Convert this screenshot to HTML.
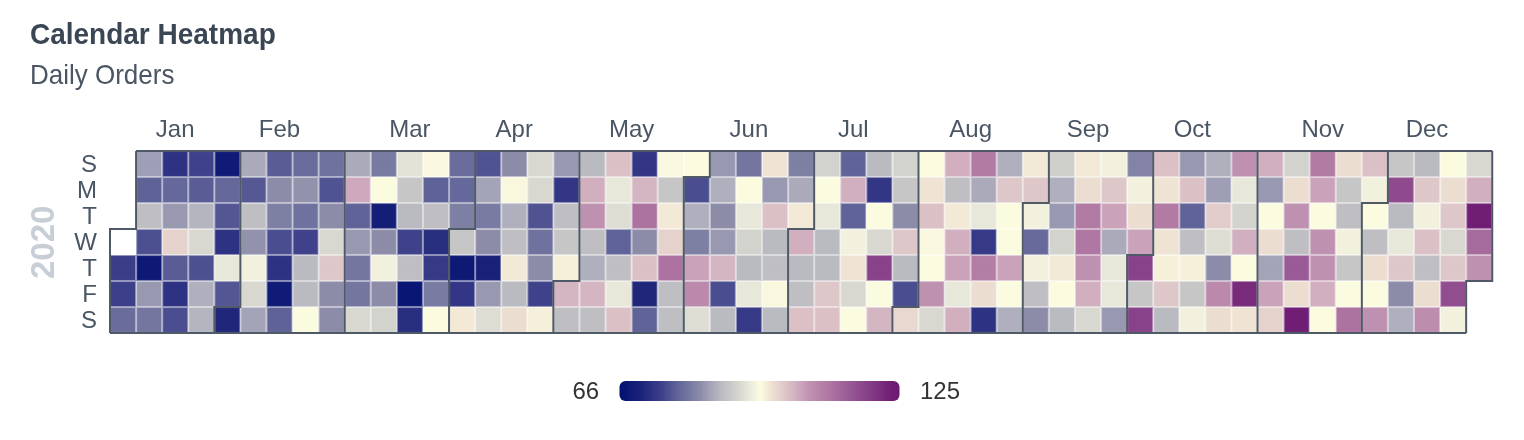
<!DOCTYPE html>
<html><head><meta charset="utf-8"><style>
html,body{margin:0;padding:0;background:#fff;width:1524px;height:440px;overflow:hidden}
svg{display:block;will-change:transform}
text{font-family:"Liberation Sans",sans-serif}
</style></head><body>
<svg width="1524" height="440" viewBox="0 0 1524 440">
<defs><linearGradient id="g" x1="0" x2="1" y1="0" y2="0"><stop offset="0.0000" stop-color="#001070"/><stop offset="0.0717" stop-color="#1a2278"/><stop offset="0.1434" stop-color="#3a3d88"/><stop offset="0.2151" stop-color="#65689a"/><stop offset="0.2867" stop-color="#8a8aa8"/><stop offset="0.3226" stop-color="#a2a2b8"/><stop offset="0.3584" stop-color="#b8b8c0"/><stop offset="0.3943" stop-color="#c8c8c8"/><stop offset="0.4301" stop-color="#d8d8d0"/><stop offset="0.4659" stop-color="#eaeadc"/><stop offset="0.5018" stop-color="#fcfce0"/><stop offset="0.5376" stop-color="#f0e4d4"/><stop offset="0.5735" stop-color="#e4d0cc"/><stop offset="0.6093" stop-color="#d8bcc4"/><stop offset="0.6452" stop-color="#cca6bc"/><stop offset="0.6810" stop-color="#bf90b0"/><stop offset="0.7527" stop-color="#ae76a2"/><stop offset="0.8244" stop-color="#985894"/><stop offset="0.8961" stop-color="#843c86"/><stop offset="0.9677" stop-color="#701e74"/><stop offset="1.0000" stop-color="#6a1a70"/></linearGradient></defs>
<text transform="translate(30,43.6) scale(1,1.055)" x="0" y="0" font-size="28" font-weight="bold" fill="#3a4654">Calendar Heatmap</text>
<text transform="translate(30,83.7) scale(1,1.04)" x="0" y="0" font-size="26" fill="#4a5664">Daily Orders</text>
<g><rect x="110.00" y="229.00" width="26.08" height="26.00" fill="#ffffff"/><rect x="110.00" y="255.00" width="26.08" height="26.00" fill="#3a3d88"/><rect x="110.00" y="281.00" width="26.08" height="26.00" fill="#3b3e88"/><rect x="110.00" y="307.00" width="26.08" height="26.00" fill="#6a6d9c"/><rect x="136.08" y="151.00" width="26.08" height="26.00" fill="#9e9eb6"/><rect x="136.08" y="177.00" width="26.08" height="26.00" fill="#5f6297"/><rect x="136.08" y="203.00" width="26.08" height="26.00" fill="#bebec3"/><rect x="136.08" y="229.00" width="26.08" height="26.00" fill="#4d5090"/><rect x="136.08" y="255.00" width="26.08" height="26.00" fill="#0d1974"/><rect x="136.08" y="281.00" width="26.08" height="26.00" fill="#9898b1"/><rect x="136.08" y="307.00" width="26.08" height="26.00" fill="#7476a0"/><rect x="162.16" y="151.00" width="26.08" height="26.00" fill="#2d3282"/><rect x="162.16" y="177.00" width="26.08" height="26.00" fill="#65689a"/><rect x="162.16" y="203.00" width="26.08" height="26.00" fill="#9898b1"/><rect x="162.16" y="229.00" width="26.08" height="26.00" fill="#e5d2cd"/><rect x="162.16" y="255.00" width="26.08" height="26.00" fill="#595c95"/><rect x="162.16" y="281.00" width="26.08" height="26.00" fill="#2d3282"/><rect x="162.16" y="307.00" width="26.08" height="26.00" fill="#4a4d8f"/><rect x="188.24" y="151.00" width="26.08" height="26.00" fill="#3f428a"/><rect x="188.24" y="177.00" width="26.08" height="26.00" fill="#595c95"/><rect x="188.24" y="203.00" width="26.08" height="26.00" fill="#b5b5bf"/><rect x="188.24" y="229.00" width="26.08" height="26.00" fill="#d8d8d0"/><rect x="188.24" y="255.00" width="26.08" height="26.00" fill="#4d5090"/><rect x="188.24" y="281.00" width="26.08" height="26.00" fill="#afafbd"/><rect x="188.24" y="307.00" width="26.08" height="26.00" fill="#b5b5bf"/><rect x="214.32" y="151.00" width="26.08" height="26.00" fill="#101b75"/><rect x="214.32" y="177.00" width="26.08" height="26.00" fill="#65689a"/><rect x="214.32" y="203.00" width="26.08" height="26.00" fill="#535693"/><rect x="214.32" y="229.00" width="26.08" height="26.00" fill="#2d3282"/><rect x="214.32" y="255.00" width="26.08" height="26.00" fill="#e7e7da"/><rect x="214.32" y="281.00" width="26.08" height="26.00" fill="#535693"/><rect x="214.32" y="307.00" width="26.08" height="26.00" fill="#20277b"/><rect x="240.40" y="151.00" width="26.08" height="26.00" fill="#aaaabb"/><rect x="240.40" y="177.00" width="26.08" height="26.00" fill="#555893"/><rect x="240.40" y="203.00" width="26.08" height="26.00" fill="#bebec3"/><rect x="240.40" y="229.00" width="26.08" height="26.00" fill="#9292ad"/><rect x="240.40" y="255.00" width="26.08" height="26.00" fill="#f1f1de"/><rect x="240.40" y="281.00" width="26.08" height="26.00" fill="#d8d8d0"/><rect x="240.40" y="307.00" width="26.08" height="26.00" fill="#a4a4b9"/><rect x="266.48" y="151.00" width="26.08" height="26.00" fill="#595c95"/><rect x="266.48" y="177.00" width="26.08" height="26.00" fill="#8c8ca9"/><rect x="266.48" y="203.00" width="26.08" height="26.00" fill="#7d7fa3"/><rect x="266.48" y="229.00" width="26.08" height="26.00" fill="#4a4d8f"/><rect x="266.48" y="255.00" width="26.08" height="26.00" fill="#2d3282"/><rect x="266.48" y="281.00" width="26.08" height="26.00" fill="#101b75"/><rect x="266.48" y="307.00" width="26.08" height="26.00" fill="#5f6297"/><rect x="292.56" y="151.00" width="26.08" height="26.00" fill="#6a6d9c"/><rect x="292.56" y="177.00" width="26.08" height="26.00" fill="#9292ad"/><rect x="292.56" y="203.00" width="26.08" height="26.00" fill="#6f719e"/><rect x="292.56" y="229.00" width="26.08" height="26.00" fill="#3f428a"/><rect x="292.56" y="255.00" width="26.08" height="26.00" fill="#babac1"/><rect x="292.56" y="281.00" width="26.08" height="26.00" fill="#babac1"/><rect x="292.56" y="307.00" width="26.08" height="26.00" fill="#fbfbe0"/><rect x="318.64" y="151.00" width="26.08" height="26.00" fill="#6f719e"/><rect x="318.64" y="177.00" width="26.08" height="26.00" fill="#505391"/><rect x="318.64" y="203.00" width="26.08" height="26.00" fill="#8c8ca9"/><rect x="318.64" y="229.00" width="26.08" height="26.00" fill="#d8d8d0"/><rect x="318.64" y="255.00" width="26.08" height="26.00" fill="#dec7c8"/><rect x="318.64" y="281.00" width="26.08" height="26.00" fill="#8c8ca9"/><rect x="318.64" y="307.00" width="26.08" height="26.00" fill="#8c8ca9"/><rect x="344.72" y="151.00" width="26.08" height="26.00" fill="#aaaabb"/><rect x="344.72" y="177.00" width="26.08" height="26.00" fill="#cea9bd"/><rect x="344.72" y="203.00" width="26.08" height="26.00" fill="#606398"/><rect x="344.72" y="229.00" width="26.08" height="26.00" fill="#9898b1"/><rect x="344.72" y="255.00" width="26.08" height="26.00" fill="#7476a0"/><rect x="344.72" y="281.00" width="26.08" height="26.00" fill="#7476a0"/><rect x="344.72" y="307.00" width="26.08" height="26.00" fill="#d8d8d0"/><rect x="370.80" y="151.00" width="26.08" height="26.00" fill="#797aa1"/><rect x="370.80" y="177.00" width="26.08" height="26.00" fill="#fbfbe0"/><rect x="370.80" y="203.00" width="26.08" height="26.00" fill="#141e76"/><rect x="370.80" y="229.00" width="26.08" height="26.00" fill="#8c8ca9"/><rect x="370.80" y="255.00" width="26.08" height="26.00" fill="#f1f1de"/><rect x="370.80" y="281.00" width="26.08" height="26.00" fill="#8c8ca9"/><rect x="370.80" y="307.00" width="26.08" height="26.00" fill="#d3d3ce"/><rect x="396.88" y="151.00" width="26.08" height="26.00" fill="#e2e2d7"/><rect x="396.88" y="177.00" width="26.08" height="26.00" fill="#c6c6c7"/><rect x="396.88" y="203.00" width="26.08" height="26.00" fill="#babac1"/><rect x="396.88" y="229.00" width="26.08" height="26.00" fill="#3f428a"/><rect x="396.88" y="255.00" width="26.08" height="26.00" fill="#bebec3"/><rect x="396.88" y="281.00" width="26.08" height="26.00" fill="#091673"/><rect x="396.88" y="307.00" width="26.08" height="26.00" fill="#292f7f"/><rect x="422.96" y="151.00" width="26.08" height="26.00" fill="#f9f7dd"/><rect x="422.96" y="177.00" width="26.08" height="26.00" fill="#5f6297"/><rect x="422.96" y="203.00" width="26.08" height="26.00" fill="#bebec3"/><rect x="422.96" y="229.00" width="26.08" height="26.00" fill="#292f7f"/><rect x="422.96" y="255.00" width="26.08" height="26.00" fill="#363a86"/><rect x="422.96" y="281.00" width="26.08" height="26.00" fill="#7a7ba2"/><rect x="422.96" y="307.00" width="26.08" height="26.00" fill="#fbfbe0"/><rect x="449.04" y="151.00" width="26.08" height="26.00" fill="#6a6d9c"/><rect x="449.04" y="177.00" width="26.08" height="26.00" fill="#65689a"/><rect x="449.04" y="203.00" width="26.08" height="26.00" fill="#7d7fa3"/><rect x="449.04" y="229.00" width="26.08" height="26.00" fill="#c6c6c7"/><rect x="449.04" y="255.00" width="26.08" height="26.00" fill="#0d1974"/><rect x="449.04" y="281.00" width="26.08" height="26.00" fill="#323684"/><rect x="449.04" y="307.00" width="26.08" height="26.00" fill="#f3e9d7"/><rect x="475.12" y="151.00" width="26.08" height="26.00" fill="#505391"/><rect x="475.12" y="177.00" width="26.08" height="26.00" fill="#a4a4b9"/><rect x="475.12" y="203.00" width="26.08" height="26.00" fill="#7a7ba2"/><rect x="475.12" y="229.00" width="26.08" height="26.00" fill="#8c8ca9"/><rect x="475.12" y="255.00" width="26.08" height="26.00" fill="#182077"/><rect x="475.12" y="281.00" width="26.08" height="26.00" fill="#9898b1"/><rect x="475.12" y="307.00" width="26.08" height="26.00" fill="#ddddd3"/><rect x="501.20" y="151.00" width="26.08" height="26.00" fill="#8c8ca9"/><rect x="501.20" y="177.00" width="26.08" height="26.00" fill="#f9f7dd"/><rect x="501.20" y="203.00" width="26.08" height="26.00" fill="#afafbd"/><rect x="501.20" y="229.00" width="26.08" height="26.00" fill="#bebec3"/><rect x="501.20" y="255.00" width="26.08" height="26.00" fill="#f3e9d7"/><rect x="501.20" y="281.00" width="26.08" height="26.00" fill="#babac1"/><rect x="501.20" y="307.00" width="26.08" height="26.00" fill="#ecddd1"/><rect x="527.28" y="151.00" width="26.08" height="26.00" fill="#d8d8d0"/><rect x="527.28" y="177.00" width="26.08" height="26.00" fill="#d8d8d0"/><rect x="527.28" y="203.00" width="26.08" height="26.00" fill="#505391"/><rect x="527.28" y="229.00" width="26.08" height="26.00" fill="#6f719e"/><rect x="527.28" y="255.00" width="26.08" height="26.00" fill="#8c8ca9"/><rect x="527.28" y="281.00" width="26.08" height="26.00" fill="#3f428a"/><rect x="527.28" y="307.00" width="26.08" height="26.00" fill="#f6f0da"/><rect x="553.36" y="151.00" width="26.08" height="26.00" fill="#9898b1"/><rect x="553.36" y="177.00" width="26.08" height="26.00" fill="#323684"/><rect x="553.36" y="203.00" width="26.08" height="26.00" fill="#bebec3"/><rect x="553.36" y="229.00" width="26.08" height="26.00" fill="#c6c6c7"/><rect x="553.36" y="255.00" width="26.08" height="26.00" fill="#f6f0da"/><rect x="553.36" y="281.00" width="26.08" height="26.00" fill="#d4b5c2"/><rect x="553.36" y="307.00" width="26.08" height="26.00" fill="#bebec3"/><rect x="579.44" y="151.00" width="26.08" height="26.00" fill="#babac1"/><rect x="579.44" y="177.00" width="26.08" height="26.00" fill="#d1afbf"/><rect x="579.44" y="203.00" width="26.08" height="26.00" fill="#bf91b0"/><rect x="579.44" y="229.00" width="26.08" height="26.00" fill="#bebec3"/><rect x="579.44" y="255.00" width="26.08" height="26.00" fill="#afafbd"/><rect x="579.44" y="281.00" width="26.08" height="26.00" fill="#d4b5c2"/><rect x="579.44" y="307.00" width="26.08" height="26.00" fill="#bebec3"/><rect x="605.52" y="151.00" width="26.08" height="26.00" fill="#dbc1c6"/><rect x="605.52" y="177.00" width="26.08" height="26.00" fill="#e7e7da"/><rect x="605.52" y="203.00" width="26.08" height="26.00" fill="#ddddd3"/><rect x="605.52" y="229.00" width="26.08" height="26.00" fill="#606398"/><rect x="605.52" y="255.00" width="26.08" height="26.00" fill="#bebec3"/><rect x="605.52" y="281.00" width="26.08" height="26.00" fill="#e7e7da"/><rect x="605.52" y="307.00" width="26.08" height="26.00" fill="#dbc1c6"/><rect x="631.60" y="151.00" width="26.08" height="26.00" fill="#323684"/><rect x="631.60" y="177.00" width="26.08" height="26.00" fill="#d4b5c2"/><rect x="631.60" y="203.00" width="26.08" height="26.00" fill="#ac73a1"/><rect x="631.60" y="229.00" width="26.08" height="26.00" fill="#8c8ca9"/><rect x="631.60" y="255.00" width="26.08" height="26.00" fill="#dbc1c6"/><rect x="631.60" y="281.00" width="26.08" height="26.00" fill="#20277b"/><rect x="631.60" y="307.00" width="26.08" height="26.00" fill="#606398"/><rect x="657.68" y="151.00" width="26.08" height="26.00" fill="#f9f7dd"/><rect x="657.68" y="177.00" width="26.08" height="26.00" fill="#c6c6c7"/><rect x="657.68" y="203.00" width="26.08" height="26.00" fill="#f3e9d7"/><rect x="657.68" y="229.00" width="26.08" height="26.00" fill="#e5d2cd"/><rect x="657.68" y="255.00" width="26.08" height="26.00" fill="#ac73a1"/><rect x="657.68" y="281.00" width="26.08" height="26.00" fill="#bebec3"/><rect x="657.68" y="307.00" width="26.08" height="26.00" fill="#bebec3"/><rect x="683.76" y="151.00" width="26.08" height="26.00" fill="#fbfbe0"/><rect x="683.76" y="177.00" width="26.08" height="26.00" fill="#4a4d8f"/><rect x="683.76" y="203.00" width="26.08" height="26.00" fill="#afafbd"/><rect x="683.76" y="229.00" width="26.08" height="26.00" fill="#7d7fa3"/><rect x="683.76" y="255.00" width="26.08" height="26.00" fill="#caa3ba"/><rect x="683.76" y="281.00" width="26.08" height="26.00" fill="#ba89ac"/><rect x="683.76" y="307.00" width="26.08" height="26.00" fill="#ddddd3"/><rect x="709.84" y="151.00" width="26.08" height="26.00" fill="#9898b1"/><rect x="709.84" y="177.00" width="26.08" height="26.00" fill="#afafbd"/><rect x="709.84" y="203.00" width="26.08" height="26.00" fill="#8c8ca9"/><rect x="709.84" y="229.00" width="26.08" height="26.00" fill="#9898b1"/><rect x="709.84" y="255.00" width="26.08" height="26.00" fill="#d4b5c2"/><rect x="709.84" y="281.00" width="26.08" height="26.00" fill="#4a4d8f"/><rect x="709.84" y="307.00" width="26.08" height="26.00" fill="#babac1"/><rect x="735.92" y="151.00" width="26.08" height="26.00" fill="#7476a0"/><rect x="735.92" y="177.00" width="26.08" height="26.00" fill="#fbfbe0"/><rect x="735.92" y="203.00" width="26.08" height="26.00" fill="#e7e7da"/><rect x="735.92" y="229.00" width="26.08" height="26.00" fill="#d3d3ce"/><rect x="735.92" y="255.00" width="26.08" height="26.00" fill="#babac1"/><rect x="735.92" y="281.00" width="26.08" height="26.00" fill="#e7e7da"/><rect x="735.92" y="307.00" width="26.08" height="26.00" fill="#363a86"/><rect x="762.00" y="151.00" width="26.08" height="26.00" fill="#efe3d3"/><rect x="762.00" y="177.00" width="26.08" height="26.00" fill="#9898b1"/><rect x="762.00" y="203.00" width="26.08" height="26.00" fill="#dbc1c6"/><rect x="762.00" y="229.00" width="26.08" height="26.00" fill="#babac1"/><rect x="762.00" y="255.00" width="26.08" height="26.00" fill="#bebec3"/><rect x="762.00" y="281.00" width="26.08" height="26.00" fill="#f9f7dd"/><rect x="762.00" y="307.00" width="26.08" height="26.00" fill="#babac1"/><rect x="788.08" y="151.00" width="26.08" height="26.00" fill="#7d7fa3"/><rect x="788.08" y="177.00" width="26.08" height="26.00" fill="#aaaabb"/><rect x="788.08" y="203.00" width="26.08" height="26.00" fill="#f3e9d7"/><rect x="788.08" y="229.00" width="26.08" height="26.00" fill="#d1afbf"/><rect x="788.08" y="255.00" width="26.08" height="26.00" fill="#babac1"/><rect x="788.08" y="281.00" width="26.08" height="26.00" fill="#bebec3"/><rect x="788.08" y="307.00" width="26.08" height="26.00" fill="#dbc1c6"/><rect x="814.16" y="151.00" width="26.08" height="26.00" fill="#d3d3ce"/><rect x="814.16" y="177.00" width="26.08" height="26.00" fill="#fbfbe0"/><rect x="814.16" y="203.00" width="26.08" height="26.00" fill="#e7e7da"/><rect x="814.16" y="229.00" width="26.08" height="26.00" fill="#babac1"/><rect x="814.16" y="255.00" width="26.08" height="26.00" fill="#babac1"/><rect x="814.16" y="281.00" width="26.08" height="26.00" fill="#dec7c8"/><rect x="814.16" y="307.00" width="26.08" height="26.00" fill="#dbc1c6"/><rect x="840.24" y="151.00" width="26.08" height="26.00" fill="#606398"/><rect x="840.24" y="177.00" width="26.08" height="26.00" fill="#d1afbf"/><rect x="840.24" y="203.00" width="26.08" height="26.00" fill="#606398"/><rect x="840.24" y="229.00" width="26.08" height="26.00" fill="#f1f1de"/><rect x="840.24" y="255.00" width="26.08" height="26.00" fill="#efe3d3"/><rect x="840.24" y="281.00" width="26.08" height="26.00" fill="#d8d8d0"/><rect x="840.24" y="307.00" width="26.08" height="26.00" fill="#fbfbe0"/><rect x="866.32" y="151.00" width="26.08" height="26.00" fill="#babac1"/><rect x="866.32" y="177.00" width="26.08" height="26.00" fill="#323684"/><rect x="866.32" y="203.00" width="26.08" height="26.00" fill="#fbfbe0"/><rect x="866.32" y="229.00" width="26.08" height="26.00" fill="#d8d8d0"/><rect x="866.32" y="255.00" width="26.08" height="26.00" fill="#884289"/><rect x="866.32" y="281.00" width="26.08" height="26.00" fill="#fbfbe0"/><rect x="866.32" y="307.00" width="26.08" height="26.00" fill="#d4b5c2"/><rect x="892.40" y="151.00" width="26.08" height="26.00" fill="#d3d3ce"/><rect x="892.40" y="177.00" width="26.08" height="26.00" fill="#c6c6c7"/><rect x="892.40" y="203.00" width="26.08" height="26.00" fill="#8c8ca9"/><rect x="892.40" y="229.00" width="26.08" height="26.00" fill="#dec7c8"/><rect x="892.40" y="255.00" width="26.08" height="26.00" fill="#babac1"/><rect x="892.40" y="281.00" width="26.08" height="26.00" fill="#4a4d8f"/><rect x="892.40" y="307.00" width="26.08" height="26.00" fill="#e9d8cf"/><rect x="918.48" y="151.00" width="26.08" height="26.00" fill="#fbfbe0"/><rect x="918.48" y="177.00" width="26.08" height="26.00" fill="#efe3d3"/><rect x="918.48" y="203.00" width="26.08" height="26.00" fill="#dbc1c6"/><rect x="918.48" y="229.00" width="26.08" height="26.00" fill="#f9f7dd"/><rect x="918.48" y="255.00" width="26.08" height="26.00" fill="#fbfbe0"/><rect x="918.48" y="281.00" width="26.08" height="26.00" fill="#bf91b0"/><rect x="918.48" y="307.00" width="26.08" height="26.00" fill="#d8d8d0"/><rect x="944.56" y="151.00" width="26.08" height="26.00" fill="#d1afbf"/><rect x="944.56" y="177.00" width="26.08" height="26.00" fill="#bebec3"/><rect x="944.56" y="203.00" width="26.08" height="26.00" fill="#f3e9d7"/><rect x="944.56" y="229.00" width="26.08" height="26.00" fill="#d1afbf"/><rect x="944.56" y="255.00" width="26.08" height="26.00" fill="#caa3ba"/><rect x="944.56" y="281.00" width="26.08" height="26.00" fill="#e7e7da"/><rect x="944.56" y="307.00" width="26.08" height="26.00" fill="#d1afbf"/><rect x="970.64" y="151.00" width="26.08" height="26.00" fill="#b17ba4"/><rect x="970.64" y="177.00" width="26.08" height="26.00" fill="#aaaabb"/><rect x="970.64" y="203.00" width="26.08" height="26.00" fill="#e7e7da"/><rect x="970.64" y="229.00" width="26.08" height="26.00" fill="#363a86"/><rect x="970.64" y="255.00" width="26.08" height="26.00" fill="#b37ea6"/><rect x="970.64" y="281.00" width="26.08" height="26.00" fill="#ecddd1"/><rect x="970.64" y="307.00" width="26.08" height="26.00" fill="#2d3282"/><rect x="996.72" y="151.00" width="26.08" height="26.00" fill="#afafbd"/><rect x="996.72" y="177.00" width="26.08" height="26.00" fill="#dec7c8"/><rect x="996.72" y="203.00" width="26.08" height="26.00" fill="#fbfbe0"/><rect x="996.72" y="229.00" width="26.08" height="26.00" fill="#fbfbe0"/><rect x="996.72" y="255.00" width="26.08" height="26.00" fill="#caa3ba"/><rect x="996.72" y="281.00" width="26.08" height="26.00" fill="#fbfbe0"/><rect x="996.72" y="307.00" width="26.08" height="26.00" fill="#afafbd"/><rect x="1022.80" y="151.00" width="26.08" height="26.00" fill="#f3e9d7"/><rect x="1022.80" y="177.00" width="26.08" height="26.00" fill="#dec7c8"/><rect x="1022.80" y="203.00" width="26.08" height="26.00" fill="#f1f1de"/><rect x="1022.80" y="229.00" width="26.08" height="26.00" fill="#66699a"/><rect x="1022.80" y="255.00" width="26.08" height="26.00" fill="#f1f1de"/><rect x="1022.80" y="281.00" width="26.08" height="26.00" fill="#bebec3"/><rect x="1022.80" y="307.00" width="26.08" height="26.00" fill="#8c8ca9"/><rect x="1048.88" y="151.00" width="26.08" height="26.00" fill="#cfcfcc"/><rect x="1048.88" y="177.00" width="26.08" height="26.00" fill="#afafbd"/><rect x="1048.88" y="203.00" width="26.08" height="26.00" fill="#9898b1"/><rect x="1048.88" y="229.00" width="26.08" height="26.00" fill="#d3d3ce"/><rect x="1048.88" y="255.00" width="26.08" height="26.00" fill="#f3e9d7"/><rect x="1048.88" y="281.00" width="26.08" height="26.00" fill="#fbfbe0"/><rect x="1048.88" y="307.00" width="26.08" height="26.00" fill="#babac1"/><rect x="1074.96" y="151.00" width="26.08" height="26.00" fill="#f3e9d7"/><rect x="1074.96" y="177.00" width="26.08" height="26.00" fill="#ecddd1"/><rect x="1074.96" y="203.00" width="26.08" height="26.00" fill="#b17ba4"/><rect x="1074.96" y="229.00" width="26.08" height="26.00" fill="#af77a3"/><rect x="1074.96" y="255.00" width="26.08" height="26.00" fill="#bf91b0"/><rect x="1074.96" y="281.00" width="26.08" height="26.00" fill="#d1afbf"/><rect x="1074.96" y="307.00" width="26.08" height="26.00" fill="#d8d8d0"/><rect x="1101.04" y="151.00" width="26.08" height="26.00" fill="#f1f1de"/><rect x="1101.04" y="177.00" width="26.08" height="26.00" fill="#dec7c8"/><rect x="1101.04" y="203.00" width="26.08" height="26.00" fill="#caa3ba"/><rect x="1101.04" y="229.00" width="26.08" height="26.00" fill="#aaaabb"/><rect x="1101.04" y="255.00" width="26.08" height="26.00" fill="#e7e7da"/><rect x="1101.04" y="281.00" width="26.08" height="26.00" fill="#e7e7da"/><rect x="1101.04" y="307.00" width="26.08" height="26.00" fill="#9898b1"/><rect x="1127.12" y="151.00" width="26.08" height="26.00" fill="#8283a5"/><rect x="1127.12" y="177.00" width="26.08" height="26.00" fill="#f1f1de"/><rect x="1127.12" y="203.00" width="26.08" height="26.00" fill="#ecddd1"/><rect x="1127.12" y="229.00" width="26.08" height="26.00" fill="#caa3ba"/><rect x="1127.12" y="255.00" width="26.08" height="26.00" fill="#884289"/><rect x="1127.12" y="281.00" width="26.08" height="26.00" fill="#c6c6c7"/><rect x="1127.12" y="307.00" width="26.08" height="26.00" fill="#884289"/><rect x="1153.20" y="151.00" width="26.08" height="26.00" fill="#dbc1c6"/><rect x="1153.20" y="177.00" width="26.08" height="26.00" fill="#efe3d3"/><rect x="1153.20" y="203.00" width="26.08" height="26.00" fill="#b17ba4"/><rect x="1153.20" y="229.00" width="26.08" height="26.00" fill="#efe3d3"/><rect x="1153.20" y="255.00" width="26.08" height="26.00" fill="#f6f0da"/><rect x="1153.20" y="281.00" width="26.08" height="26.00" fill="#dec7c8"/><rect x="1153.20" y="307.00" width="26.08" height="26.00" fill="#babac1"/><rect x="1179.28" y="151.00" width="26.08" height="26.00" fill="#9898b1"/><rect x="1179.28" y="177.00" width="26.08" height="26.00" fill="#dbc1c6"/><rect x="1179.28" y="203.00" width="26.08" height="26.00" fill="#606398"/><rect x="1179.28" y="229.00" width="26.08" height="26.00" fill="#bebec3"/><rect x="1179.28" y="255.00" width="26.08" height="26.00" fill="#f6f0da"/><rect x="1179.28" y="281.00" width="26.08" height="26.00" fill="#c6c6c7"/><rect x="1179.28" y="307.00" width="26.08" height="26.00" fill="#f1f1de"/><rect x="1205.36" y="151.00" width="26.08" height="26.00" fill="#afafbd"/><rect x="1205.36" y="177.00" width="26.08" height="26.00" fill="#9e9eb6"/><rect x="1205.36" y="203.00" width="26.08" height="26.00" fill="#e2cccb"/><rect x="1205.36" y="229.00" width="26.08" height="26.00" fill="#ddddd3"/><rect x="1205.36" y="255.00" width="26.08" height="26.00" fill="#8c8ca9"/><rect x="1205.36" y="281.00" width="26.08" height="26.00" fill="#ba89ac"/><rect x="1205.36" y="307.00" width="26.08" height="26.00" fill="#ecddd1"/><rect x="1231.44" y="151.00" width="26.08" height="26.00" fill="#bf91b0"/><rect x="1231.44" y="177.00" width="26.08" height="26.00" fill="#e7e7da"/><rect x="1231.44" y="203.00" width="26.08" height="26.00" fill="#d3d3ce"/><rect x="1231.44" y="229.00" width="26.08" height="26.00" fill="#d1afbf"/><rect x="1231.44" y="255.00" width="26.08" height="26.00" fill="#fbfbe0"/><rect x="1231.44" y="281.00" width="26.08" height="26.00" fill="#782a7b"/><rect x="1231.44" y="307.00" width="26.08" height="26.00" fill="#efe3d3"/><rect x="1257.52" y="151.00" width="26.08" height="26.00" fill="#d1afbf"/><rect x="1257.52" y="177.00" width="26.08" height="26.00" fill="#9898b1"/><rect x="1257.52" y="203.00" width="26.08" height="26.00" fill="#fbfbe0"/><rect x="1257.52" y="229.00" width="26.08" height="26.00" fill="#ecddd1"/><rect x="1257.52" y="255.00" width="26.08" height="26.00" fill="#a4a4b9"/><rect x="1257.52" y="281.00" width="26.08" height="26.00" fill="#caa3ba"/><rect x="1257.52" y="307.00" width="26.08" height="26.00" fill="#e5d2cd"/><rect x="1283.60" y="151.00" width="26.08" height="26.00" fill="#d3d3ce"/><rect x="1283.60" y="177.00" width="26.08" height="26.00" fill="#ecddd1"/><rect x="1283.60" y="203.00" width="26.08" height="26.00" fill="#bf91b0"/><rect x="1283.60" y="229.00" width="26.08" height="26.00" fill="#bebec3"/><rect x="1283.60" y="255.00" width="26.08" height="26.00" fill="#995a95"/><rect x="1283.60" y="281.00" width="26.08" height="26.00" fill="#ecddd1"/><rect x="1283.60" y="307.00" width="26.08" height="26.00" fill="#701e74"/><rect x="1309.68" y="151.00" width="26.08" height="26.00" fill="#b17ba4"/><rect x="1309.68" y="177.00" width="26.08" height="26.00" fill="#caa3ba"/><rect x="1309.68" y="203.00" width="26.08" height="26.00" fill="#fbfbe0"/><rect x="1309.68" y="229.00" width="26.08" height="26.00" fill="#bf91b0"/><rect x="1309.68" y="255.00" width="26.08" height="26.00" fill="#bf91b0"/><rect x="1309.68" y="281.00" width="26.08" height="26.00" fill="#d1afbf"/><rect x="1309.68" y="307.00" width="26.08" height="26.00" fill="#fbfbe0"/><rect x="1335.76" y="151.00" width="26.08" height="26.00" fill="#ecddd1"/><rect x="1335.76" y="177.00" width="26.08" height="26.00" fill="#c6c6c7"/><rect x="1335.76" y="203.00" width="26.08" height="26.00" fill="#bebec3"/><rect x="1335.76" y="229.00" width="26.08" height="26.00" fill="#f1f1de"/><rect x="1335.76" y="255.00" width="26.08" height="26.00" fill="#c6c6c7"/><rect x="1335.76" y="281.00" width="26.08" height="26.00" fill="#fbfbe0"/><rect x="1335.76" y="307.00" width="26.08" height="26.00" fill="#ac73a1"/><rect x="1361.84" y="151.00" width="26.08" height="26.00" fill="#dbc1c6"/><rect x="1361.84" y="177.00" width="26.08" height="26.00" fill="#f1f1de"/><rect x="1361.84" y="203.00" width="26.08" height="26.00" fill="#fbfbe0"/><rect x="1361.84" y="229.00" width="26.08" height="26.00" fill="#bebec3"/><rect x="1361.84" y="255.00" width="26.08" height="26.00" fill="#ecddd1"/><rect x="1361.84" y="281.00" width="26.08" height="26.00" fill="#fbfbe0"/><rect x="1361.84" y="307.00" width="26.08" height="26.00" fill="#bf91b0"/><rect x="1387.92" y="151.00" width="26.08" height="26.00" fill="#c6c6c7"/><rect x="1387.92" y="177.00" width="26.08" height="26.00" fill="#8e4a8d"/><rect x="1387.92" y="203.00" width="26.08" height="26.00" fill="#babac1"/><rect x="1387.92" y="229.00" width="26.08" height="26.00" fill="#e7e7da"/><rect x="1387.92" y="255.00" width="26.08" height="26.00" fill="#dec7c8"/><rect x="1387.92" y="281.00" width="26.08" height="26.00" fill="#8c8ca9"/><rect x="1387.92" y="307.00" width="26.08" height="26.00" fill="#afafbd"/><rect x="1414.00" y="151.00" width="26.08" height="26.00" fill="#babac1"/><rect x="1414.00" y="177.00" width="26.08" height="26.00" fill="#dec7c8"/><rect x="1414.00" y="203.00" width="26.08" height="26.00" fill="#f1f1de"/><rect x="1414.00" y="229.00" width="26.08" height="26.00" fill="#dbc1c6"/><rect x="1414.00" y="255.00" width="26.08" height="26.00" fill="#bebec3"/><rect x="1414.00" y="281.00" width="26.08" height="26.00" fill="#ecddd1"/><rect x="1414.00" y="307.00" width="26.08" height="26.00" fill="#bd8dae"/><rect x="1440.08" y="151.00" width="26.08" height="26.00" fill="#fbfbe0"/><rect x="1440.08" y="177.00" width="26.08" height="26.00" fill="#ecddd1"/><rect x="1440.08" y="203.00" width="26.08" height="26.00" fill="#dec7c8"/><rect x="1440.08" y="229.00" width="26.08" height="26.00" fill="#d8d8d0"/><rect x="1440.08" y="255.00" width="26.08" height="26.00" fill="#dec7c8"/><rect x="1440.08" y="281.00" width="26.08" height="26.00" fill="#914e8f"/><rect x="1440.08" y="307.00" width="26.08" height="26.00" fill="#f1f1de"/><rect x="1466.16" y="151.00" width="26.08" height="26.00" fill="#d8d8d0"/><rect x="1466.16" y="177.00" width="26.08" height="26.00" fill="#d1afbf"/><rect x="1466.16" y="203.00" width="26.08" height="26.00" fill="#701e74"/><rect x="1466.16" y="229.00" width="26.08" height="26.00" fill="#a66b9d"/><rect x="1466.16" y="255.00" width="26.08" height="26.00" fill="#bf91b0"/></g>
<g fill="none" stroke="rgba(255,255,255,0.45)" stroke-width="1.1"><rect x="110.50" y="255.50" width="25.08" height="25.00"/><rect x="110.50" y="281.50" width="25.08" height="25.00"/><rect x="110.50" y="307.50" width="25.08" height="25.00"/><rect x="136.58" y="151.50" width="25.08" height="25.00"/><rect x="136.58" y="177.50" width="25.08" height="25.00"/><rect x="136.58" y="203.50" width="25.08" height="25.00"/><rect x="136.58" y="229.50" width="25.08" height="25.00"/><rect x="136.58" y="255.50" width="25.08" height="25.00"/><rect x="136.58" y="281.50" width="25.08" height="25.00"/><rect x="136.58" y="307.50" width="25.08" height="25.00"/><rect x="162.66" y="151.50" width="25.08" height="25.00"/><rect x="162.66" y="177.50" width="25.08" height="25.00"/><rect x="162.66" y="203.50" width="25.08" height="25.00"/><rect x="162.66" y="229.50" width="25.08" height="25.00"/><rect x="162.66" y="255.50" width="25.08" height="25.00"/><rect x="162.66" y="281.50" width="25.08" height="25.00"/><rect x="162.66" y="307.50" width="25.08" height="25.00"/><rect x="188.74" y="151.50" width="25.08" height="25.00"/><rect x="188.74" y="177.50" width="25.08" height="25.00"/><rect x="188.74" y="203.50" width="25.08" height="25.00"/><rect x="188.74" y="229.50" width="25.08" height="25.00"/><rect x="188.74" y="255.50" width="25.08" height="25.00"/><rect x="188.74" y="281.50" width="25.08" height="25.00"/><rect x="188.74" y="307.50" width="25.08" height="25.00"/><rect x="214.82" y="151.50" width="25.08" height="25.00"/><rect x="214.82" y="177.50" width="25.08" height="25.00"/><rect x="214.82" y="203.50" width="25.08" height="25.00"/><rect x="214.82" y="229.50" width="25.08" height="25.00"/><rect x="214.82" y="255.50" width="25.08" height="25.00"/><rect x="214.82" y="281.50" width="25.08" height="25.00"/><rect x="214.82" y="307.50" width="25.08" height="25.00"/><rect x="240.90" y="151.50" width="25.08" height="25.00"/><rect x="240.90" y="177.50" width="25.08" height="25.00"/><rect x="240.90" y="203.50" width="25.08" height="25.00"/><rect x="240.90" y="229.50" width="25.08" height="25.00"/><rect x="240.90" y="255.50" width="25.08" height="25.00"/><rect x="240.90" y="281.50" width="25.08" height="25.00"/><rect x="240.90" y="307.50" width="25.08" height="25.00"/><rect x="266.98" y="151.50" width="25.08" height="25.00"/><rect x="266.98" y="177.50" width="25.08" height="25.00"/><rect x="266.98" y="203.50" width="25.08" height="25.00"/><rect x="266.98" y="229.50" width="25.08" height="25.00"/><rect x="266.98" y="255.50" width="25.08" height="25.00"/><rect x="266.98" y="281.50" width="25.08" height="25.00"/><rect x="266.98" y="307.50" width="25.08" height="25.00"/><rect x="293.06" y="151.50" width="25.08" height="25.00"/><rect x="293.06" y="177.50" width="25.08" height="25.00"/><rect x="293.06" y="203.50" width="25.08" height="25.00"/><rect x="293.06" y="229.50" width="25.08" height="25.00"/><rect x="293.06" y="255.50" width="25.08" height="25.00"/><rect x="293.06" y="281.50" width="25.08" height="25.00"/><rect x="293.06" y="307.50" width="25.08" height="25.00"/><rect x="319.14" y="151.50" width="25.08" height="25.00"/><rect x="319.14" y="177.50" width="25.08" height="25.00"/><rect x="319.14" y="203.50" width="25.08" height="25.00"/><rect x="319.14" y="229.50" width="25.08" height="25.00"/><rect x="319.14" y="255.50" width="25.08" height="25.00"/><rect x="319.14" y="281.50" width="25.08" height="25.00"/><rect x="319.14" y="307.50" width="25.08" height="25.00"/><rect x="345.22" y="151.50" width="25.08" height="25.00"/><rect x="345.22" y="177.50" width="25.08" height="25.00"/><rect x="345.22" y="203.50" width="25.08" height="25.00"/><rect x="345.22" y="229.50" width="25.08" height="25.00"/><rect x="345.22" y="255.50" width="25.08" height="25.00"/><rect x="345.22" y="281.50" width="25.08" height="25.00"/><rect x="345.22" y="307.50" width="25.08" height="25.00"/><rect x="371.30" y="151.50" width="25.08" height="25.00"/><rect x="371.30" y="177.50" width="25.08" height="25.00"/><rect x="371.30" y="203.50" width="25.08" height="25.00"/><rect x="371.30" y="229.50" width="25.08" height="25.00"/><rect x="371.30" y="255.50" width="25.08" height="25.00"/><rect x="371.30" y="281.50" width="25.08" height="25.00"/><rect x="371.30" y="307.50" width="25.08" height="25.00"/><rect x="397.38" y="151.50" width="25.08" height="25.00"/><rect x="397.38" y="177.50" width="25.08" height="25.00"/><rect x="397.38" y="203.50" width="25.08" height="25.00"/><rect x="397.38" y="229.50" width="25.08" height="25.00"/><rect x="397.38" y="255.50" width="25.08" height="25.00"/><rect x="397.38" y="281.50" width="25.08" height="25.00"/><rect x="397.38" y="307.50" width="25.08" height="25.00"/><rect x="423.46" y="151.50" width="25.08" height="25.00"/><rect x="423.46" y="177.50" width="25.08" height="25.00"/><rect x="423.46" y="203.50" width="25.08" height="25.00"/><rect x="423.46" y="229.50" width="25.08" height="25.00"/><rect x="423.46" y="255.50" width="25.08" height="25.00"/><rect x="423.46" y="281.50" width="25.08" height="25.00"/><rect x="423.46" y="307.50" width="25.08" height="25.00"/><rect x="449.54" y="151.50" width="25.08" height="25.00"/><rect x="449.54" y="177.50" width="25.08" height="25.00"/><rect x="449.54" y="203.50" width="25.08" height="25.00"/><rect x="449.54" y="229.50" width="25.08" height="25.00"/><rect x="449.54" y="255.50" width="25.08" height="25.00"/><rect x="449.54" y="281.50" width="25.08" height="25.00"/><rect x="449.54" y="307.50" width="25.08" height="25.00"/><rect x="475.62" y="151.50" width="25.08" height="25.00"/><rect x="475.62" y="177.50" width="25.08" height="25.00"/><rect x="475.62" y="203.50" width="25.08" height="25.00"/><rect x="475.62" y="229.50" width="25.08" height="25.00"/><rect x="475.62" y="255.50" width="25.08" height="25.00"/><rect x="475.62" y="281.50" width="25.08" height="25.00"/><rect x="475.62" y="307.50" width="25.08" height="25.00"/><rect x="501.70" y="151.50" width="25.08" height="25.00"/><rect x="501.70" y="177.50" width="25.08" height="25.00"/><rect x="501.70" y="203.50" width="25.08" height="25.00"/><rect x="501.70" y="229.50" width="25.08" height="25.00"/><rect x="501.70" y="255.50" width="25.08" height="25.00"/><rect x="501.70" y="281.50" width="25.08" height="25.00"/><rect x="501.70" y="307.50" width="25.08" height="25.00"/><rect x="527.78" y="151.50" width="25.08" height="25.00"/><rect x="527.78" y="177.50" width="25.08" height="25.00"/><rect x="527.78" y="203.50" width="25.08" height="25.00"/><rect x="527.78" y="229.50" width="25.08" height="25.00"/><rect x="527.78" y="255.50" width="25.08" height="25.00"/><rect x="527.78" y="281.50" width="25.08" height="25.00"/><rect x="527.78" y="307.50" width="25.08" height="25.00"/><rect x="553.86" y="151.50" width="25.08" height="25.00"/><rect x="553.86" y="177.50" width="25.08" height="25.00"/><rect x="553.86" y="203.50" width="25.08" height="25.00"/><rect x="553.86" y="229.50" width="25.08" height="25.00"/><rect x="553.86" y="255.50" width="25.08" height="25.00"/><rect x="553.86" y="281.50" width="25.08" height="25.00"/><rect x="553.86" y="307.50" width="25.08" height="25.00"/><rect x="579.94" y="151.50" width="25.08" height="25.00"/><rect x="579.94" y="177.50" width="25.08" height="25.00"/><rect x="579.94" y="203.50" width="25.08" height="25.00"/><rect x="579.94" y="229.50" width="25.08" height="25.00"/><rect x="579.94" y="255.50" width="25.08" height="25.00"/><rect x="579.94" y="281.50" width="25.08" height="25.00"/><rect x="579.94" y="307.50" width="25.08" height="25.00"/><rect x="606.02" y="151.50" width="25.08" height="25.00"/><rect x="606.02" y="177.50" width="25.08" height="25.00"/><rect x="606.02" y="203.50" width="25.08" height="25.00"/><rect x="606.02" y="229.50" width="25.08" height="25.00"/><rect x="606.02" y="255.50" width="25.08" height="25.00"/><rect x="606.02" y="281.50" width="25.08" height="25.00"/><rect x="606.02" y="307.50" width="25.08" height="25.00"/><rect x="632.10" y="151.50" width="25.08" height="25.00"/><rect x="632.10" y="177.50" width="25.08" height="25.00"/><rect x="632.10" y="203.50" width="25.08" height="25.00"/><rect x="632.10" y="229.50" width="25.08" height="25.00"/><rect x="632.10" y="255.50" width="25.08" height="25.00"/><rect x="632.10" y="281.50" width="25.08" height="25.00"/><rect x="632.10" y="307.50" width="25.08" height="25.00"/><rect x="658.18" y="151.50" width="25.08" height="25.00"/><rect x="658.18" y="177.50" width="25.08" height="25.00"/><rect x="658.18" y="203.50" width="25.08" height="25.00"/><rect x="658.18" y="229.50" width="25.08" height="25.00"/><rect x="658.18" y="255.50" width="25.08" height="25.00"/><rect x="658.18" y="281.50" width="25.08" height="25.00"/><rect x="658.18" y="307.50" width="25.08" height="25.00"/><rect x="684.26" y="151.50" width="25.08" height="25.00"/><rect x="684.26" y="177.50" width="25.08" height="25.00"/><rect x="684.26" y="203.50" width="25.08" height="25.00"/><rect x="684.26" y="229.50" width="25.08" height="25.00"/><rect x="684.26" y="255.50" width="25.08" height="25.00"/><rect x="684.26" y="281.50" width="25.08" height="25.00"/><rect x="684.26" y="307.50" width="25.08" height="25.00"/><rect x="710.34" y="151.50" width="25.08" height="25.00"/><rect x="710.34" y="177.50" width="25.08" height="25.00"/><rect x="710.34" y="203.50" width="25.08" height="25.00"/><rect x="710.34" y="229.50" width="25.08" height="25.00"/><rect x="710.34" y="255.50" width="25.08" height="25.00"/><rect x="710.34" y="281.50" width="25.08" height="25.00"/><rect x="710.34" y="307.50" width="25.08" height="25.00"/><rect x="736.42" y="151.50" width="25.08" height="25.00"/><rect x="736.42" y="177.50" width="25.08" height="25.00"/><rect x="736.42" y="203.50" width="25.08" height="25.00"/><rect x="736.42" y="229.50" width="25.08" height="25.00"/><rect x="736.42" y="255.50" width="25.08" height="25.00"/><rect x="736.42" y="281.50" width="25.08" height="25.00"/><rect x="736.42" y="307.50" width="25.08" height="25.00"/><rect x="762.50" y="151.50" width="25.08" height="25.00"/><rect x="762.50" y="177.50" width="25.08" height="25.00"/><rect x="762.50" y="203.50" width="25.08" height="25.00"/><rect x="762.50" y="229.50" width="25.08" height="25.00"/><rect x="762.50" y="255.50" width="25.08" height="25.00"/><rect x="762.50" y="281.50" width="25.08" height="25.00"/><rect x="762.50" y="307.50" width="25.08" height="25.00"/><rect x="788.58" y="151.50" width="25.08" height="25.00"/><rect x="788.58" y="177.50" width="25.08" height="25.00"/><rect x="788.58" y="203.50" width="25.08" height="25.00"/><rect x="788.58" y="229.50" width="25.08" height="25.00"/><rect x="788.58" y="255.50" width="25.08" height="25.00"/><rect x="788.58" y="281.50" width="25.08" height="25.00"/><rect x="788.58" y="307.50" width="25.08" height="25.00"/><rect x="814.66" y="151.50" width="25.08" height="25.00"/><rect x="814.66" y="177.50" width="25.08" height="25.00"/><rect x="814.66" y="203.50" width="25.08" height="25.00"/><rect x="814.66" y="229.50" width="25.08" height="25.00"/><rect x="814.66" y="255.50" width="25.08" height="25.00"/><rect x="814.66" y="281.50" width="25.08" height="25.00"/><rect x="814.66" y="307.50" width="25.08" height="25.00"/><rect x="840.74" y="151.50" width="25.08" height="25.00"/><rect x="840.74" y="177.50" width="25.08" height="25.00"/><rect x="840.74" y="203.50" width="25.08" height="25.00"/><rect x="840.74" y="229.50" width="25.08" height="25.00"/><rect x="840.74" y="255.50" width="25.08" height="25.00"/><rect x="840.74" y="281.50" width="25.08" height="25.00"/><rect x="840.74" y="307.50" width="25.08" height="25.00"/><rect x="866.82" y="151.50" width="25.08" height="25.00"/><rect x="866.82" y="177.50" width="25.08" height="25.00"/><rect x="866.82" y="203.50" width="25.08" height="25.00"/><rect x="866.82" y="229.50" width="25.08" height="25.00"/><rect x="866.82" y="255.50" width="25.08" height="25.00"/><rect x="866.82" y="281.50" width="25.08" height="25.00"/><rect x="866.82" y="307.50" width="25.08" height="25.00"/><rect x="892.90" y="151.50" width="25.08" height="25.00"/><rect x="892.90" y="177.50" width="25.08" height="25.00"/><rect x="892.90" y="203.50" width="25.08" height="25.00"/><rect x="892.90" y="229.50" width="25.08" height="25.00"/><rect x="892.90" y="255.50" width="25.08" height="25.00"/><rect x="892.90" y="281.50" width="25.08" height="25.00"/><rect x="892.90" y="307.50" width="25.08" height="25.00"/><rect x="918.98" y="151.50" width="25.08" height="25.00"/><rect x="918.98" y="177.50" width="25.08" height="25.00"/><rect x="918.98" y="203.50" width="25.08" height="25.00"/><rect x="918.98" y="229.50" width="25.08" height="25.00"/><rect x="918.98" y="255.50" width="25.08" height="25.00"/><rect x="918.98" y="281.50" width="25.08" height="25.00"/><rect x="918.98" y="307.50" width="25.08" height="25.00"/><rect x="945.06" y="151.50" width="25.08" height="25.00"/><rect x="945.06" y="177.50" width="25.08" height="25.00"/><rect x="945.06" y="203.50" width="25.08" height="25.00"/><rect x="945.06" y="229.50" width="25.08" height="25.00"/><rect x="945.06" y="255.50" width="25.08" height="25.00"/><rect x="945.06" y="281.50" width="25.08" height="25.00"/><rect x="945.06" y="307.50" width="25.08" height="25.00"/><rect x="971.14" y="151.50" width="25.08" height="25.00"/><rect x="971.14" y="177.50" width="25.08" height="25.00"/><rect x="971.14" y="203.50" width="25.08" height="25.00"/><rect x="971.14" y="229.50" width="25.08" height="25.00"/><rect x="971.14" y="255.50" width="25.08" height="25.00"/><rect x="971.14" y="281.50" width="25.08" height="25.00"/><rect x="971.14" y="307.50" width="25.08" height="25.00"/><rect x="997.22" y="151.50" width="25.08" height="25.00"/><rect x="997.22" y="177.50" width="25.08" height="25.00"/><rect x="997.22" y="203.50" width="25.08" height="25.00"/><rect x="997.22" y="229.50" width="25.08" height="25.00"/><rect x="997.22" y="255.50" width="25.08" height="25.00"/><rect x="997.22" y="281.50" width="25.08" height="25.00"/><rect x="997.22" y="307.50" width="25.08" height="25.00"/><rect x="1023.30" y="151.50" width="25.08" height="25.00"/><rect x="1023.30" y="177.50" width="25.08" height="25.00"/><rect x="1023.30" y="203.50" width="25.08" height="25.00"/><rect x="1023.30" y="229.50" width="25.08" height="25.00"/><rect x="1023.30" y="255.50" width="25.08" height="25.00"/><rect x="1023.30" y="281.50" width="25.08" height="25.00"/><rect x="1023.30" y="307.50" width="25.08" height="25.00"/><rect x="1049.38" y="151.50" width="25.08" height="25.00"/><rect x="1049.38" y="177.50" width="25.08" height="25.00"/><rect x="1049.38" y="203.50" width="25.08" height="25.00"/><rect x="1049.38" y="229.50" width="25.08" height="25.00"/><rect x="1049.38" y="255.50" width="25.08" height="25.00"/><rect x="1049.38" y="281.50" width="25.08" height="25.00"/><rect x="1049.38" y="307.50" width="25.08" height="25.00"/><rect x="1075.46" y="151.50" width="25.08" height="25.00"/><rect x="1075.46" y="177.50" width="25.08" height="25.00"/><rect x="1075.46" y="203.50" width="25.08" height="25.00"/><rect x="1075.46" y="229.50" width="25.08" height="25.00"/><rect x="1075.46" y="255.50" width="25.08" height="25.00"/><rect x="1075.46" y="281.50" width="25.08" height="25.00"/><rect x="1075.46" y="307.50" width="25.08" height="25.00"/><rect x="1101.54" y="151.50" width="25.08" height="25.00"/><rect x="1101.54" y="177.50" width="25.08" height="25.00"/><rect x="1101.54" y="203.50" width="25.08" height="25.00"/><rect x="1101.54" y="229.50" width="25.08" height="25.00"/><rect x="1101.54" y="255.50" width="25.08" height="25.00"/><rect x="1101.54" y="281.50" width="25.08" height="25.00"/><rect x="1101.54" y="307.50" width="25.08" height="25.00"/><rect x="1127.62" y="151.50" width="25.08" height="25.00"/><rect x="1127.62" y="177.50" width="25.08" height="25.00"/><rect x="1127.62" y="203.50" width="25.08" height="25.00"/><rect x="1127.62" y="229.50" width="25.08" height="25.00"/><rect x="1127.62" y="255.50" width="25.08" height="25.00"/><rect x="1127.62" y="281.50" width="25.08" height="25.00"/><rect x="1127.62" y="307.50" width="25.08" height="25.00"/><rect x="1153.70" y="151.50" width="25.08" height="25.00"/><rect x="1153.70" y="177.50" width="25.08" height="25.00"/><rect x="1153.70" y="203.50" width="25.08" height="25.00"/><rect x="1153.70" y="229.50" width="25.08" height="25.00"/><rect x="1153.70" y="255.50" width="25.08" height="25.00"/><rect x="1153.70" y="281.50" width="25.08" height="25.00"/><rect x="1153.70" y="307.50" width="25.08" height="25.00"/><rect x="1179.78" y="151.50" width="25.08" height="25.00"/><rect x="1179.78" y="177.50" width="25.08" height="25.00"/><rect x="1179.78" y="203.50" width="25.08" height="25.00"/><rect x="1179.78" y="229.50" width="25.08" height="25.00"/><rect x="1179.78" y="255.50" width="25.08" height="25.00"/><rect x="1179.78" y="281.50" width="25.08" height="25.00"/><rect x="1179.78" y="307.50" width="25.08" height="25.00"/><rect x="1205.86" y="151.50" width="25.08" height="25.00"/><rect x="1205.86" y="177.50" width="25.08" height="25.00"/><rect x="1205.86" y="203.50" width="25.08" height="25.00"/><rect x="1205.86" y="229.50" width="25.08" height="25.00"/><rect x="1205.86" y="255.50" width="25.08" height="25.00"/><rect x="1205.86" y="281.50" width="25.08" height="25.00"/><rect x="1205.86" y="307.50" width="25.08" height="25.00"/><rect x="1231.94" y="151.50" width="25.08" height="25.00"/><rect x="1231.94" y="177.50" width="25.08" height="25.00"/><rect x="1231.94" y="203.50" width="25.08" height="25.00"/><rect x="1231.94" y="229.50" width="25.08" height="25.00"/><rect x="1231.94" y="255.50" width="25.08" height="25.00"/><rect x="1231.94" y="281.50" width="25.08" height="25.00"/><rect x="1231.94" y="307.50" width="25.08" height="25.00"/><rect x="1258.02" y="151.50" width="25.08" height="25.00"/><rect x="1258.02" y="177.50" width="25.08" height="25.00"/><rect x="1258.02" y="203.50" width="25.08" height="25.00"/><rect x="1258.02" y="229.50" width="25.08" height="25.00"/><rect x="1258.02" y="255.50" width="25.08" height="25.00"/><rect x="1258.02" y="281.50" width="25.08" height="25.00"/><rect x="1258.02" y="307.50" width="25.08" height="25.00"/><rect x="1284.10" y="151.50" width="25.08" height="25.00"/><rect x="1284.10" y="177.50" width="25.08" height="25.00"/><rect x="1284.10" y="203.50" width="25.08" height="25.00"/><rect x="1284.10" y="229.50" width="25.08" height="25.00"/><rect x="1284.10" y="255.50" width="25.08" height="25.00"/><rect x="1284.10" y="281.50" width="25.08" height="25.00"/><rect x="1284.10" y="307.50" width="25.08" height="25.00"/><rect x="1310.18" y="151.50" width="25.08" height="25.00"/><rect x="1310.18" y="177.50" width="25.08" height="25.00"/><rect x="1310.18" y="203.50" width="25.08" height="25.00"/><rect x="1310.18" y="229.50" width="25.08" height="25.00"/><rect x="1310.18" y="255.50" width="25.08" height="25.00"/><rect x="1310.18" y="281.50" width="25.08" height="25.00"/><rect x="1310.18" y="307.50" width="25.08" height="25.00"/><rect x="1336.26" y="151.50" width="25.08" height="25.00"/><rect x="1336.26" y="177.50" width="25.08" height="25.00"/><rect x="1336.26" y="203.50" width="25.08" height="25.00"/><rect x="1336.26" y="229.50" width="25.08" height="25.00"/><rect x="1336.26" y="255.50" width="25.08" height="25.00"/><rect x="1336.26" y="281.50" width="25.08" height="25.00"/><rect x="1336.26" y="307.50" width="25.08" height="25.00"/><rect x="1362.34" y="151.50" width="25.08" height="25.00"/><rect x="1362.34" y="177.50" width="25.08" height="25.00"/><rect x="1362.34" y="203.50" width="25.08" height="25.00"/><rect x="1362.34" y="229.50" width="25.08" height="25.00"/><rect x="1362.34" y="255.50" width="25.08" height="25.00"/><rect x="1362.34" y="281.50" width="25.08" height="25.00"/><rect x="1362.34" y="307.50" width="25.08" height="25.00"/><rect x="1388.42" y="151.50" width="25.08" height="25.00"/><rect x="1388.42" y="177.50" width="25.08" height="25.00"/><rect x="1388.42" y="203.50" width="25.08" height="25.00"/><rect x="1388.42" y="229.50" width="25.08" height="25.00"/><rect x="1388.42" y="255.50" width="25.08" height="25.00"/><rect x="1388.42" y="281.50" width="25.08" height="25.00"/><rect x="1388.42" y="307.50" width="25.08" height="25.00"/><rect x="1414.50" y="151.50" width="25.08" height="25.00"/><rect x="1414.50" y="177.50" width="25.08" height="25.00"/><rect x="1414.50" y="203.50" width="25.08" height="25.00"/><rect x="1414.50" y="229.50" width="25.08" height="25.00"/><rect x="1414.50" y="255.50" width="25.08" height="25.00"/><rect x="1414.50" y="281.50" width="25.08" height="25.00"/><rect x="1414.50" y="307.50" width="25.08" height="25.00"/><rect x="1440.58" y="151.50" width="25.08" height="25.00"/><rect x="1440.58" y="177.50" width="25.08" height="25.00"/><rect x="1440.58" y="203.50" width="25.08" height="25.00"/><rect x="1440.58" y="229.50" width="25.08" height="25.00"/><rect x="1440.58" y="255.50" width="25.08" height="25.00"/><rect x="1440.58" y="281.50" width="25.08" height="25.00"/><rect x="1440.58" y="307.50" width="25.08" height="25.00"/><rect x="1466.66" y="151.50" width="25.08" height="25.00"/><rect x="1466.66" y="177.50" width="25.08" height="25.00"/><rect x="1466.66" y="203.50" width="25.08" height="25.00"/><rect x="1466.66" y="229.50" width="25.08" height="25.00"/><rect x="1466.66" y="255.50" width="25.08" height="25.00"/></g>
<g fill="none" stroke="#4f5a66" stroke-width="2" stroke-linejoin="miter"><polyline points="136.08,151.00 136.08,177.00 136.08,177.00 136.08,203.00 136.08,203.00 136.08,229.00 110.00,229.00 110.00,255.00 110.00,255.00 110.00,281.00 110.00,281.00 110.00,307.00 110.00,307.00 110.00,333.00"/><polyline points="240.40,151.00 240.40,177.00 240.40,177.00 240.40,203.00 240.40,203.00 240.40,229.00 240.40,229.00 240.40,255.00 240.40,255.00 240.40,281.00 240.40,281.00 240.40,307.00 214.32,307.00 214.32,333.00"/><polyline points="344.72,151.00 344.72,177.00 344.72,177.00 344.72,203.00 344.72,203.00 344.72,229.00 344.72,229.00 344.72,255.00 344.72,255.00 344.72,281.00 344.72,281.00 344.72,307.00 344.72,307.00 344.72,333.00"/><polyline points="475.12,151.00 475.12,177.00 475.12,177.00 475.12,203.00 475.12,203.00 475.12,229.00 449.04,229.00 449.04,255.00 449.04,255.00 449.04,281.00 449.04,281.00 449.04,307.00 449.04,307.00 449.04,333.00"/><polyline points="579.44,151.00 579.44,177.00 579.44,177.00 579.44,203.00 579.44,203.00 579.44,229.00 579.44,229.00 579.44,255.00 579.44,255.00 579.44,281.00 553.36,281.00 553.36,307.00 553.36,307.00 553.36,333.00"/><polyline points="709.84,151.00 709.84,177.00 683.76,177.00 683.76,203.00 683.76,203.00 683.76,229.00 683.76,229.00 683.76,255.00 683.76,255.00 683.76,281.00 683.76,281.00 683.76,307.00 683.76,307.00 683.76,333.00"/><polyline points="814.16,151.00 814.16,177.00 814.16,177.00 814.16,203.00 814.16,203.00 814.16,229.00 788.08,229.00 788.08,255.00 788.08,255.00 788.08,281.00 788.08,281.00 788.08,307.00 788.08,307.00 788.08,333.00"/><polyline points="918.48,151.00 918.48,177.00 918.48,177.00 918.48,203.00 918.48,203.00 918.48,229.00 918.48,229.00 918.48,255.00 918.48,255.00 918.48,281.00 918.48,281.00 918.48,307.00 892.40,307.00 892.40,333.00"/><polyline points="1048.88,151.00 1048.88,177.00 1048.88,177.00 1048.88,203.00 1022.80,203.00 1022.80,229.00 1022.80,229.00 1022.80,255.00 1022.80,255.00 1022.80,281.00 1022.80,281.00 1022.80,307.00 1022.80,307.00 1022.80,333.00"/><polyline points="1153.20,151.00 1153.20,177.00 1153.20,177.00 1153.20,203.00 1153.20,203.00 1153.20,229.00 1153.20,229.00 1153.20,255.00 1127.12,255.00 1127.12,281.00 1127.12,281.00 1127.12,307.00 1127.12,307.00 1127.12,333.00"/><polyline points="1257.52,151.00 1257.52,177.00 1257.52,177.00 1257.52,203.00 1257.52,203.00 1257.52,229.00 1257.52,229.00 1257.52,255.00 1257.52,255.00 1257.52,281.00 1257.52,281.00 1257.52,307.00 1257.52,307.00 1257.52,333.00"/><polyline points="1387.92,151.00 1387.92,177.00 1387.92,177.00 1387.92,203.00 1361.84,203.00 1361.84,229.00 1361.84,229.00 1361.84,255.00 1361.84,255.00 1361.84,281.00 1361.84,281.00 1361.84,307.00 1361.84,307.00 1361.84,333.00"/><polyline points="1492.24,151.00 1492.24,177.00 1492.24,177.00 1492.24,203.00 1492.24,203.00 1492.24,229.00 1492.24,229.00 1492.24,255.00 1492.24,255.00 1492.24,281.00 1466.16,281.00 1466.16,307.00 1466.16,307.00 1466.16,333.00"/><polyline points="136.08,151.00 240.40,151.00 344.72,151.00 475.12,151.00 579.44,151.00 709.84,151.00 814.16,151.00 918.48,151.00 1048.88,151.00 1153.20,151.00 1257.52,151.00 1387.92,151.00 1492.24,151.00"/><polyline points="110.00,333.00 214.32,333.00 344.72,333.00 449.04,333.00 553.36,333.00 683.76,333.00 788.08,333.00 892.40,333.00 1022.80,333.00 1127.12,333.00 1257.52,333.00 1361.84,333.00 1466.16,333.00"/></g>
<g font-size="24" fill="#4a5664"><text x="175.20" y="137" text-anchor="middle">Jan</text><text x="279.52" y="137" text-anchor="middle">Feb</text><text x="409.92" y="137" text-anchor="middle">Mar</text><text x="514.24" y="137" text-anchor="middle">Apr</text><text x="631.60" y="137" text-anchor="middle">May</text><text x="748.96" y="137" text-anchor="middle">Jun</text><text x="853.28" y="137" text-anchor="middle">Jul</text><text x="970.64" y="137" text-anchor="middle">Aug</text><text x="1088.00" y="137" text-anchor="middle">Sep</text><text x="1192.32" y="137" text-anchor="middle">Oct</text><text x="1322.72" y="137" text-anchor="middle">Nov</text><text x="1427.04" y="137" text-anchor="middle">Dec</text></g>
<g font-size="24" fill="#4a5664"><text x="97" y="171.80" text-anchor="end">S</text><text x="97" y="197.80" text-anchor="end">M</text><text x="97" y="223.80" text-anchor="end">T</text><text x="97" y="249.80" text-anchor="end">W</text><text x="97" y="275.80" text-anchor="end">T</text><text x="97" y="301.80" text-anchor="end">F</text><text x="97" y="327.80" text-anchor="end">S</text></g>
<text transform="translate(54,242.3) rotate(-90)" text-anchor="middle" font-size="33" font-weight="bold" fill="#c8ced6">2020</text>
<rect x="619.5" y="381" width="280" height="20" rx="6" ry="6" fill="url(#g)"/>
<text x="599.2" y="399" text-anchor="end" font-size="24" fill="#333">66</text>
<text x="920" y="399" font-size="24" fill="#333">125</text>
</svg>
</body></html>
